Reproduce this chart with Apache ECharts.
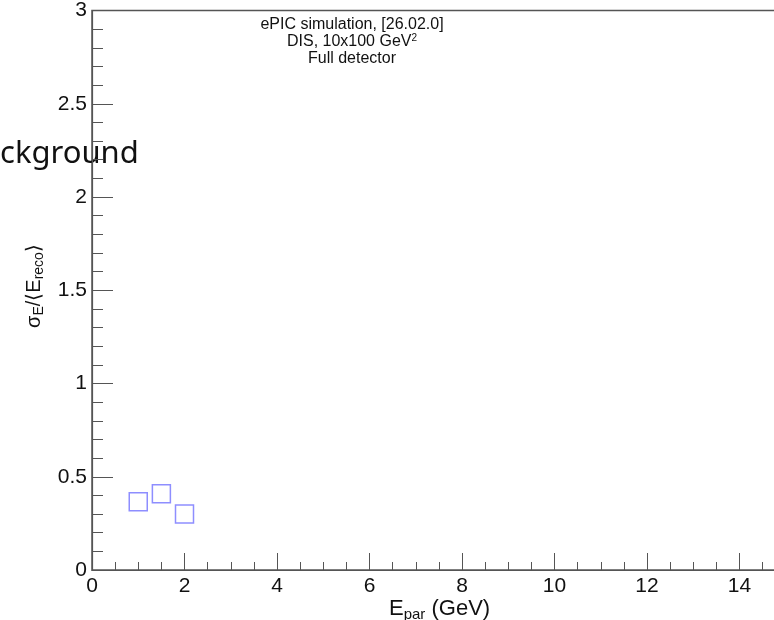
<!DOCTYPE html>
<html>
<head>
<meta charset="utf-8">
<script src="https://cdn.jsdelivr.net/npm/echarts@6/dist/echarts.min.js"></script>
<style>
  html, body { margin: 0; padding: 0; background: #fff; overflow: hidden; }
  /* frame is wider than the window: the right edge of the plot is cut off like in the original */
  #main { width: 833px; height: 620px; }
</style>
</head>
<body>
<div id="main"></div>
<script>
// values
var ePar = [1, 1.5, 2];
var sigmaOverE = [0.366, 0.409, 0.30];
var labelLines = ['ePIC simulation, [26.02.0]', 'DIS, 10x100 GeV{sup|2}', 'Full detector'];

var points = ePar.map(function (x, i) { return [x, sigmaOverE[i]]; });

var chart = echarts.init(document.getElementById('main'));
var axisColor = '#555';
var font = '"Liberation Sans", Arial, sans-serif';

chart.setOption({
  animation: false,
  backgroundColor: '#fff',
  grid: {
    left: 92, top: 7, bottom: 50, right: 1,
    show: true, borderColor: axisColor, borderWidth: 1.5
  },
  xAxis: {
    type: 'value', min: 0, max: 16, interval: 2,
    axisLine: { show: true, lineStyle: { color: axisColor, width: 1.2 } },
    axisTick: { show: true, inside: true, length: 17, lineStyle: { color: axisColor } },
    minorTick: { show: true, splitNumber: 4, length: 8, lineStyle: { color: axisColor } },
    splitLine: { show: false },
    axisLabel: { color: '#111', fontSize: 21, fontFamily: font, margin: 6, showMaxLabel: false }
  },
  yAxis: {
    type: 'value', min: 0, max: 3, interval: 0.5,
    axisLine: { show: true, lineStyle: { color: axisColor, width: 1.2 } },
    axisTick: { show: true, inside: true, length: 21, lineStyle: { color: axisColor } },
    minorTick: { show: true, splitNumber: 5, length: 11, lineStyle: { color: axisColor } },
    splitLine: { show: false },
    axisLabel: { color: '#111', fontSize: 21, fontFamily: font, margin: 5 }
  },
  graphic: [
    {
      type: 'text', left: 0, top: 139,
      style: { text: 'ckground', fontSize: 31, fontFamily: '"Noto Sans", sans-serif', fill: '#111' }
    },
    {
      type: 'text', x: 352, y: 16,
      style: {
        text: labelLines.join('\n'), align: 'center', fontSize: 16, lineHeight: 17,
        fontFamily: font, fill: '#111',
        rich: { sup: { fontSize: 10, verticalAlign: 'top', padding: [0, 0, 8, 0] } }
      }
    },
    {
      type: 'text', x: 389, y: 596,
      style: {
        text: 'E{sub|par} (GeV)', fontSize: 22, fontFamily: font, fill: '#111',
        rich: { sub: { fontSize: 15, padding: [11, 0, 0, 0] } }
      }
    },
    {
      type: 'text', x: 34, y: 286, rotation: Math.PI / 2,
      style: {
        text: '\u03c3{sub|E}/\u27e8E{sub|reco}\u27e9', fontSize: 20, fontFamily: font, fill: '#111',
        align: 'center', verticalAlign: 'middle',
        rich: { sub: { fontSize: 14, padding: [10, 0, 0, 0] } }
      }
    }
  ],
  series: [{
    type: 'scatter',
    data: points,
    symbol: 'rect',
    symbolSize: 18,
    itemStyle: { color: 'rgba(0,0,0,0)', borderColor: '#7272ff', borderWidth: 1.5 }
  }]
});
</script>
</body>
</html>
